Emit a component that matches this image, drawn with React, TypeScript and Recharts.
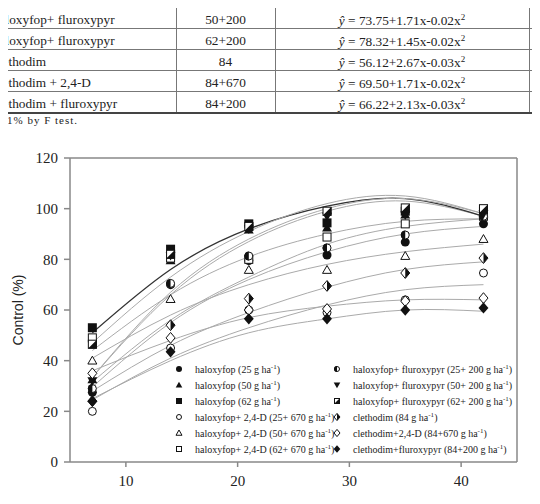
import { ComposedChart, Line, Scatter, XAxis, YAxis, ReferenceLine, Label } from 'recharts';

const SERIF = "'Liberation Serif', 'DejaVu Serif', serif";
const SANS = "'Liberation Sans', Arial, sans-serif";

// days after application
const days = [7, 14, 21, 28, 35, 42];

// observed control (%)
const halox25 = [27.5, 70, 79.5, 81.7, 86.8, 94];
const halox50 = [32.5, 79.5, 91.6, 92.4, 97.5, 98];
const halox62 = [53, 84, 94, 94.4, 99, 99];
const haloxD25 = [20, 45, 60, 59, 64, 74.6];
const haloxD50 = [40, 64.3, 75.8, 75.8, 81.3, 88];
const haloxD62 = [49, 80.5, 80, 88.8, 94, 97];
const haloxF25 = [29, 70.5, 81.3, 84.5, 89.6, 97];
const haloxF50 = [32, 81.5, 92, 97, 97.5, 98];
const haloxF62 = [46.5, 82, 93, 99, 100.3, 100];
const cleth = [24, 54, 64.5, 69.5, 74.6, 80.5];
const clethD = [35, 49, 60, 60.4, 63.5, 64.7];
const clethF = [24, 43.5, 56.5, 56.5, 60, 60.8];

// fitted regression curves, read at the same days
const fitHalox25 = [29.6, 55, 72, 83, 90, 93];
const fitHalox50 = [33.5, 66, 87, 99, 103, 97];
const fitHalox62 = [51, 76, 92, 101, 104, 97];
const fitHaloxD25 = [24.5, 41, 53, 62, 68, 70];
const fitHaloxD50 = [41, 58, 70, 78, 83, 86];
const fitHaloxD62 = [44, 66, 81, 90, 95, 96];
const fitHaloxF25 = [31.6, 56, 73, 86, 93, 96];
const fitHaloxF50 = [33.5, 67, 88, 100, 104, 98];
const fitHaloxF62 = [47, 73, 91, 102, 105, 98];
const fitCleth = [28, 46, 59, 69, 76, 79];
const fitClethD = [36, 48, 57, 61.5, 64, 64];
const fitClethF = [25, 40, 51, 56.5, 60, 59.5];

type Kind =
  | 'circle' | 'tri' | 'square' | 'circleOpen' | 'triOpen' | 'squareOpen'
  | 'circleHalf' | 'triDown' | 'squareHalf' | 'diamondHalf' | 'diamondOpen' | 'diamond';

const treatments: { name: string; dose: string; kind: Kind; obs: number[]; fit: number[]; dark?: boolean }[] = [
  { name: 'haloxyfop', dose: '(25 g ha', kind: 'circle', obs: halox25, fit: fitHalox25 },
  { name: 'haloxyfop', dose: '(50 g ha', kind: 'tri', obs: halox50, fit: fitHalox50 },
  { name: 'haloxyfop', dose: '(62 g ha', kind: 'square', obs: halox62, fit: fitHalox62, dark: true },
  { name: 'haloxyfop+ 2,4-D', dose: '(25+ 670 g ha', kind: 'circleOpen', obs: haloxD25, fit: fitHaloxD25 },
  { name: 'haloxyfop+ 2,4-D', dose: '(50+ 670 g ha', kind: 'triOpen', obs: haloxD50, fit: fitHaloxD50 },
  { name: 'haloxyfop+ 2,4-D', dose: '(62+ 670 g ha', kind: 'squareOpen', obs: haloxD62, fit: fitHaloxD62 },
  { name: 'haloxyfop+ fluroxypyr', dose: '(25+ 200 g ha', kind: 'circleHalf', obs: haloxF25, fit: fitHaloxF25 },
  { name: 'haloxyfop+ fluroxypyr', dose: '(50+ 200 g ha', kind: 'triDown', obs: haloxF50, fit: fitHaloxF50 },
  { name: 'haloxyfop+ fluroxypyr', dose: '(62+ 200 g ha', kind: 'squareHalf', obs: haloxF62, fit: fitHaloxF62 },
  { name: 'clethodim', dose: '(84 g ha', kind: 'diamondHalf', obs: cleth, fit: fitCleth },
  { name: 'clethodim+2,4-D', dose: '(84+670 g ha', kind: 'diamondOpen', obs: clethD, fit: fitClethD },
  { name: 'clethodim+fluroxypyr', dose: '(84+200 g ha', kind: 'diamond', obs: clethF, fit: fitClethF },
];

const toPoints = (vals: number[]) => days.map((d, i) => ({ day: d, v: vals[i] }));

const INK = '#111';

function Mark({ kind, cx, cy, s }: { kind: Kind; cx: number; cy: number; s: number }) {
  const sw = 1;
  switch (kind) {
    case 'circle':
      return <circle cx={cx} cy={cy} r={s} fill={INK} />;
    case 'circleOpen':
      return <circle cx={cx} cy={cy} r={s - 0.5} fill="#fff" stroke={INK} strokeWidth={sw} />;
    case 'circleHalf':
      return (
        <g>
          <circle cx={cx} cy={cy} r={s - 0.5} fill="#fff" stroke={INK} strokeWidth={sw} />
          <path d={`M${cx},${cy - s} A${s},${s} 0 0 0 ${cx},${cy + s} Z`} fill={INK} />
        </g>
      );
    case 'tri':
      return <polygon points={`${cx},${cy - s * 1.1} ${cx + s * 1.1},${cy + s * 0.8} ${cx - s * 1.1},${cy + s * 0.8}`} fill={INK} />;
    case 'triOpen':
      return (
        <polygon
          points={`${cx},${cy - s} ${cx + s},${cy + s * 0.75} ${cx - s},${cy + s * 0.75}`}
          fill="#fff"
          stroke={INK}
          strokeWidth={sw}
        />
      );
    case 'triDown':
      return <polygon points={`${cx},${cy + s * 1.1} ${cx + s * 1.1},${cy - s * 0.8} ${cx - s * 1.1},${cy - s * 0.8}`} fill={INK} />;
    case 'square':
      return <rect x={cx - s} y={cy - s} width={s * 2} height={s * 2} fill={INK} />;
    case 'squareOpen':
      return <rect x={cx - s + 0.5} y={cy - s + 0.5} width={s * 2 - 1} height={s * 2 - 1} fill="#fff" stroke={INK} strokeWidth={sw} />;
    case 'squareHalf':
      return (
        <g>
          <rect x={cx - s + 0.5} y={cy - s + 0.5} width={s * 2 - 1} height={s * 2 - 1} fill="#fff" stroke={INK} strokeWidth={sw} />
          <polygon points={`${cx - s},${cy + s} ${cx + s},${cy - s} ${cx + s},${cy + s}`} fill={INK} />
        </g>
      );
    case 'diamondHalf':
      return (
        <g>
          <polygon
            points={`${cx},${cy - s * 1.2} ${cx + s},${cy} ${cx},${cy + s * 1.2} ${cx - s},${cy}`}
            fill="#fff"
            stroke={INK}
            strokeWidth={sw}
          />
          <polygon points={`${cx},${cy - s * 1.2} ${cx + s},${cy} ${cx},${cy + s * 1.2}`} fill={INK} />
        </g>
      );
    case 'diamondOpen':
      return (
        <polygon
          points={`${cx},${cy - s * 1.2} ${cx + s},${cy} ${cx},${cy + s * 1.2} ${cx - s},${cy}`}
          fill="#fff"
          stroke={INK}
          strokeWidth={sw}
        />
      );
    case 'diamond':
      return <polygon points={`${cx},${cy - s * 1.25} ${cx + s * 1.1},${cy} ${cx},${cy + s * 1.25} ${cx - s * 1.1},${cy}`} fill={INK} />;
  }
  return null;
}

// two-column key drawn inside the plot frame
function LegendBox() {
  const rows = 6;
  return (
    <div style={{ position: 'absolute', left: 171, top: 361, width: 360, height: 100, fontFamily: SERIF, fontSize: 10, color: '#222' }}>
      {treatments.map((t, i) => {
        const col = Math.floor(i / rows);
        const row = i % rows;
        const left = col === 0 ? 0 : 158;
        return (
          <div
            key={i}
            style={{ position: 'absolute', left, top: row * 16, height: 16, display: 'flex', alignItems: 'center', whiteSpace: 'nowrap' }}
          >
            <svg width={16} height={16} style={{ flex: 'none' }}>
              <Mark kind={t.kind} cx={8} cy={8} s={3} />
            </svg>
            <span style={{ marginLeft: 8 }}>
              {t.name} {t.dose}
              <sup style={{ fontSize: 7 }}>-1</sup>)
            </span>
          </div>
        );
      })}
    </div>
  );
}

// regression table rows above the figure
const tblNames = ['Haloxyfop + fluroxypyr', 'Haloxyfop+ fluroxypyr', 'Haloxyfop+ fluroxypyr', 'Clethodim', 'Clethodim + 2,4-D', 'Clethodim + fluroxypyr'];
const tblDoses = ['25+200', '50+200', '62+200', '84', '84+670', '84+200'];
const tblB0 = ['64.02', '73.75', '78.32', '56.12', '69.50', '66.22'];
const tblB1 = ['2.00', '1.71', '1.45', '2.67', '1.71', '2.13'];
const tblB2 = ['0.04', '0.02', '0.02', '0.03', '0.02', '0.03'];

function TableRows() {
  const rowTop = -13;
  const rowH = 21;
  return (
    <div style={{ position: 'absolute', left: 0, top: 0, width: 540, height: 130, fontFamily: SERIF, fontSize: 13.3, color: '#222' }}>
      {tblNames.map((n, i) => {
        const top = rowTop + i * rowH;
        return (
          <div key={i} style={{ position: 'absolute', left: 0, top, width: 540, height: rowH }}>
            <div style={{ position: 'absolute', left: -10, top: 4, whiteSpace: 'nowrap' }}>{n}</div>
            <div style={{ position: 'absolute', left: 176, width: 99, top: 4, textAlign: 'center' }}>{tblDoses[i]}</div>
            <div style={{ position: 'absolute', left: 275, width: 254, top: 4, textAlign: 'center', whiteSpace: 'nowrap' }}>
              <i>ŷ</i> = {tblB0[i]}+{tblB1[i]}x-{tblB2[i]}x<sup style={{ fontSize: 9 }}>2</sup>
            </div>
            <div style={{ position: 'absolute', left: 0, top: rowH - 1, width: 540, height: 1, background: '#777' }} />
          </div>
        );
      })}
      <div style={{ position: 'absolute', left: 176, top: 0, width: 1, height: 113, background: '#777' }} />
      <div style={{ position: 'absolute', left: 275, top: 0, width: 1, height: 113, background: '#777' }} />
      <div style={{ position: 'absolute', left: 529, top: 0, width: 1, height: 113, background: '#777' }} />
      <div style={{ position: 'absolute', left: 0, top: 112, width: 540, height: 2, background: '#444' }} />
      <div style={{ position: 'absolute', right: 536, top: 114, whiteSpace: 'nowrap', fontSize: 11, letterSpacing: 1 }}>
        ** Significant at
      </div>
      <div style={{ position: 'absolute', left: 7, top: 114, whiteSpace: 'nowrap', fontSize: 11, letterSpacing: 1 }}>
        1% by F test.
      </div>
    </div>
  );
}

export default function App() {
  return (
    <div style={{ position: 'relative', width: 540, height: 504, margin: -8, overflow: 'hidden', background: '#fff' }}>
      <TableRows />
      <div style={{ position: 'absolute', left: 0, top: 0 }}>
        <ComposedChart width={540} height={504} margin={{ top: 158, right: 23, bottom: 0, left: 0 }}>
          <XAxis
            dataKey="day"
            type="number"
            domain={[5, 45]}
            ticks={[10, 20, 30, 40]}
            allowDuplicatedCategory={false}
            height={42}
            tickSize={5}
            tickMargin={8}
            axisLine={{ stroke: '#888', strokeWidth: 1.5 }}
            tickLine={{ stroke: '#888', strokeWidth: 1.5 }}
            tick={{ fill: '#222', fontSize: 15, fontFamily: SERIF }}
          >
            <Label
              content={() => (
                <text x={309} y={510} textAnchor="middle" style={{ fill: '#222', fontSize: 14, fontFamily: SANS }}>
                  Days after application
                </text>
              )}
            />
          </XAxis>
          <YAxis
            type="number"
            domain={[0, 120]}
            ticks={[0, 20, 40, 60, 80, 100, 120]}
            width={70}
            tickSize={6}
            tickMargin={6}
            axisLine={{ stroke: '#888', strokeWidth: 1.5 }}
            tickLine={{ stroke: '#888', strokeWidth: 1.5 }}
            tick={{ fill: '#222', fontSize: 15, fontFamily: SERIF }}
          >
            <Label
              content={() => (
                <text
                  x={18}
                  y={310}
                  transform="rotate(-90 18 310)"
                  textAnchor="middle"
                  dominantBaseline="central"
                  style={{ fill: '#222', fontSize: 14, fontFamily: SANS }}
                >
                  Control (%)
                </text>
              )}
            />
          </YAxis>
          <ReferenceLine y={120} stroke="#888" strokeWidth={1.5} />
          <ReferenceLine x={45} stroke="#888" strokeWidth={1.5} />
          {treatments.map((t, i) => (
            <Line
              key={'fit' + i}
              data={toPoints(t.fit)}
              dataKey="v"
              type="natural"
              stroke={t.dark ? '#333' : '#aaa'}
              strokeWidth={t.dark ? 1.3 : 1}
              dot={false}
              activeDot={false}
              isAnimationActive={false}
            />
          ))}
          {treatments.map((t, i) => (
            <Scatter
              key={'obs' + i}
              data={toPoints(t.obs)}
              dataKey="v"
              isAnimationActive={false}
              shape={(p: any) => <Mark kind={t.kind} cx={p.cx} cy={p.cy} s={4.5} />}
            />
          ))}
        </ComposedChart>
      </div>
      <LegendBox />
    </div>
  );
}
